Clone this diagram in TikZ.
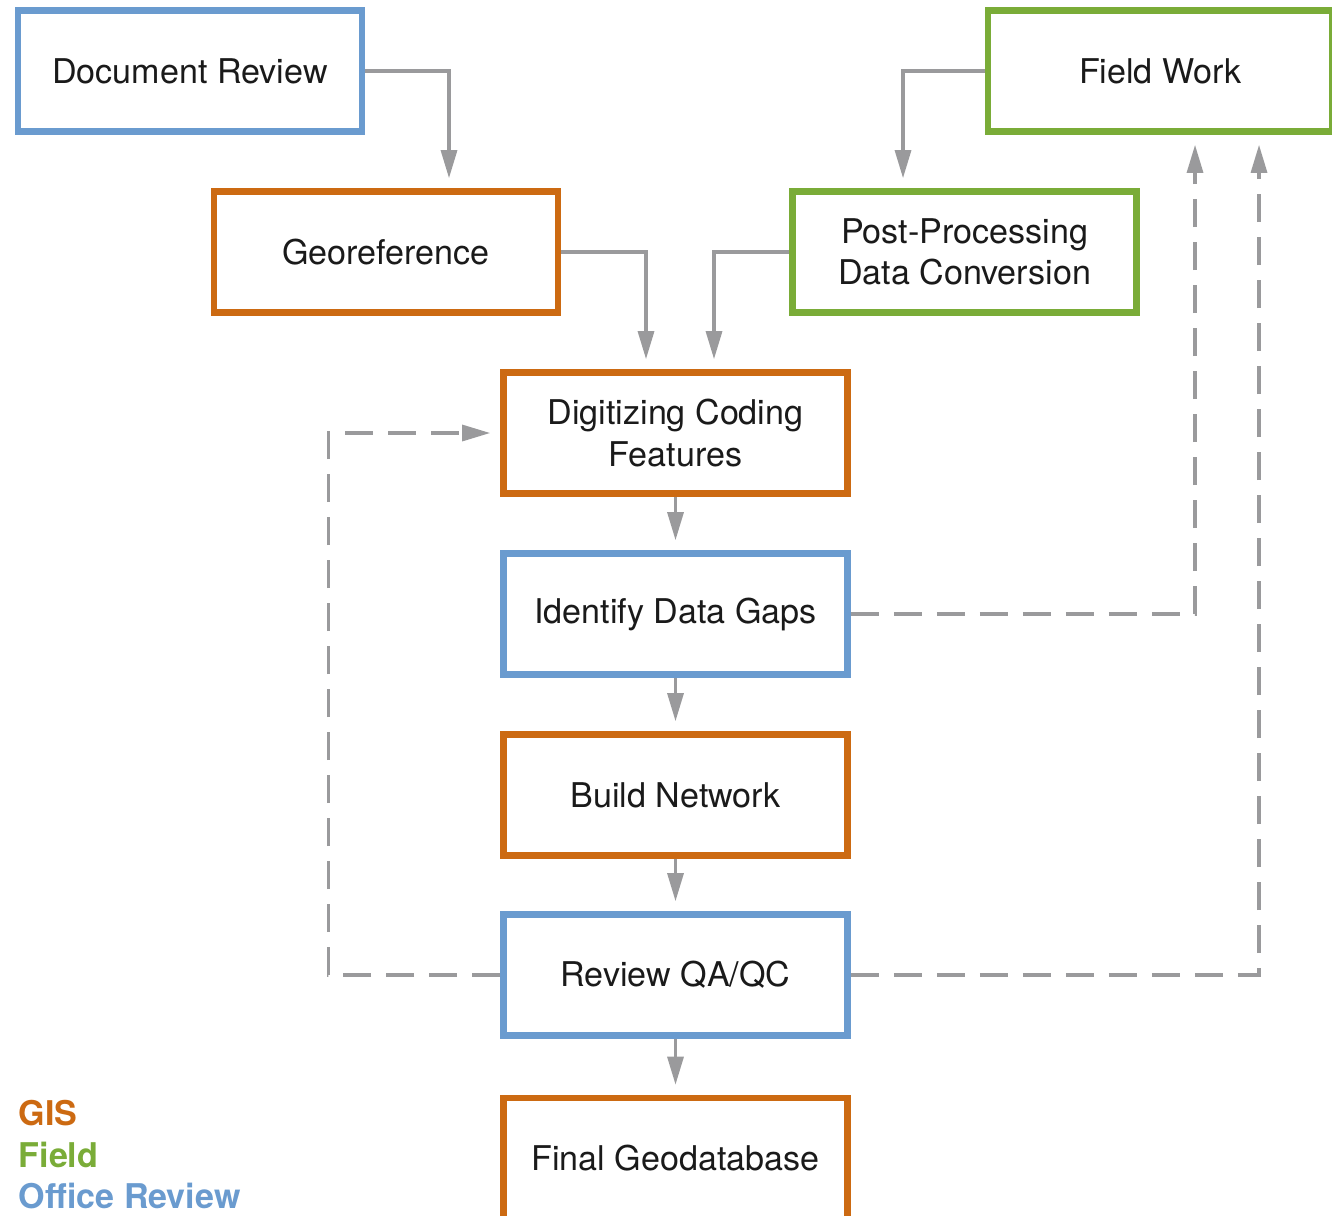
\documentclass[tikz,border=0pt]{standalone}
\usepackage{fontspec}
\setmainfont{TeX Gyre Heros}
\usetikzlibrary{arrows.meta}

\definecolor{gisorange}{HTML}{CC6A12}
\definecolor{fieldgreen}{HTML}{7AAC38}
\definecolor{officeblue}{HTML}{6A9BCF}
\definecolor{arrowgray}{HTML}{9A9A9C}
\definecolor{textblack}{HTML}{1A1A1A}

\tikzset{
  stagebox/.style={draw, line width=1.9pt, fill=white, minimum width=3.44cm,
    minimum height=1.21cm, align=center, text=textblack,
    font=\fontsize{9.7}{11.7}\selectfont},
  gisbox/.style={stagebox, draw=gisorange},
  fieldbox/.style={stagebox, draw=fieldgreen},
  officebox/.style={stagebox, draw=officeblue},
  flow/.style={draw=arrowgray, line width=0.9pt,
    -{Triangle[length=2.8mm,width=1.6mm]}, shorten >=1mm},
  backflow/.style={flow, dash pattern=on 0.28cm off 0.15cm},
  legend/.style={anchor=west, inner sep=0pt,
    font=\fontsize{9.7}{11.7}\selectfont\bfseries}
}

\begin{document}
\begin{tikzpicture}
\useasboundingbox (0,0) rectangle (13.32,-12.15);

% stages
\node [officebox] (docrev) at (1.90,-0.71) {Document Review};
\node [gisbox] (georef) at (3.86,-2.52) {Georeference};
\node [fieldbox] (fieldwork) at (11.60,-0.71) {Field Work};
\node [fieldbox] (postproc) at (9.645,-2.52) {Post-Processing\\Data Conversion};
\node [gisbox] (digit) at (6.755,-4.33) {Digitizing Coding\\Features};
\node [officebox] (gaps) at (6.755,-6.14) {Identify Data Gaps};
\node [gisbox] (network) at (6.755,-7.95) {Build Network};
\node [officebox] (qaqc) at (6.755,-9.75) {Review QA/QC};
\node [gisbox] (final) at (6.755,-11.585) {Final Geodatabase};

% solid flow
\draw [flow] (docrev.east) -| ([xshift=0.63cm]georef.north);
\draw [flow] (fieldwork.west) -| ([xshift=-0.615cm]postproc.north);
\draw [flow] (georef.east) -| ([xshift=-0.295cm]digit.north);
\draw [flow] (postproc.west) -| ([xshift=0.385cm]digit.north);
\draw [flow] (digit) -- (gaps);
\draw [flow] (gaps) -- (network);
\draw [flow] (network) -- (qaqc);
\draw [flow] (qaqc) -- (final);

% dashed feedback
\draw [backflow] (gaps.east) -| ([xshift=0.35cm]fieldwork.south);
\draw [backflow] (qaqc.east) -| ([xshift=0.99cm]fieldwork.south);
\draw [backflow] (qaqc.west) -- ++(-1.72,0) |- (digit.west);

% legend
\node [legend, text=gisorange] (leggis) at (0.18,-11.13) {GIS};
\node [legend, text=fieldgreen] (legfield) at (0.18,-11.55) {Field};
\node [legend, text=officeblue] (legoffice) at (0.18,-11.96) {Office Review};
\end{tikzpicture}
\end{document}
